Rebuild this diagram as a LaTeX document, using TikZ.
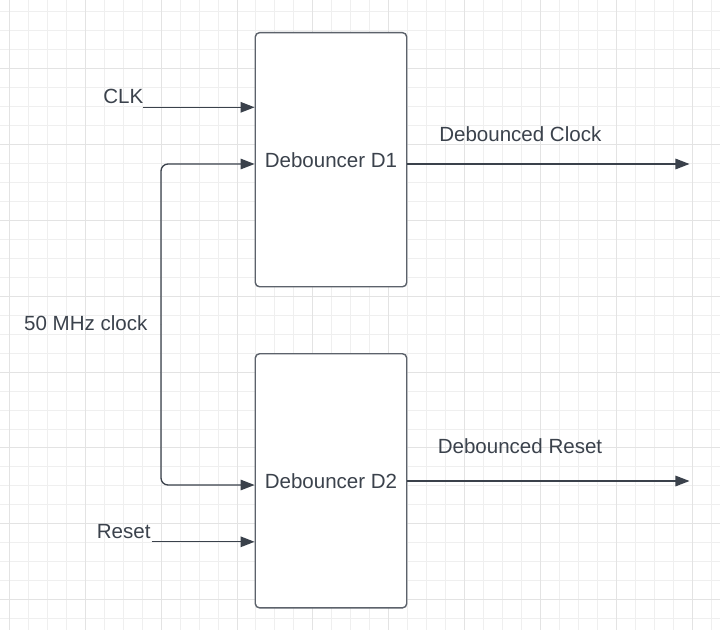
\documentclass[tikz,border=0pt]{standalone}
\usepackage{fontspec}
\setmainfont{Liberation Sans}
\usetikzlibrary{arrows.meta,positioning}
\definecolor{inkline}{HTML}{3A414B}
\definecolor{inkbox}{HTML}{5C626B}
\definecolor{inktext}{HTML}{3B424C}
\definecolor{gridminor}{HTML}{EFEFEF}
\definecolor{gridmajor}{HTML}{E3E3E3}
\tikzset{
  debox/.style={draw=inkbox, line width=1pt, rounded corners=3pt, fill=white,
    minimum width=3.785cm, minimum height=6.35cm, inner sep=0pt, text=inktext},
  lbl/.style={inner sep=0pt, text=inktext},
  wire/.style={draw=inkline, line width=0.95pt, -{Triangle[length=10pt,width=7.5pt]}},
  gridline/.style={line width=0.711pt}
}

\begin{document}
\begin{tikzpicture}[x=0.025cm, y=-0.025cm, font=\fontsize{14.6}{17}\selectfont]
			%%%%% START %%%%%
			\useasboundingbox (0, 0) rectangle (720, 630);
			\fill[white] (0, 0) rectangle (720, 630);
			
			% grid
			\foreach \i in {-1,...,38} {
				\pgfmathsetmacro{\gx}{round(10+\i*18.96)-0.5}
				\draw[gridline, gridminor] (\gx, 0) -- (\gx, 630);
			}
			\foreach \i in {-1,...,33} {
				\pgfmathsetmacro{\gy}{round(12.4+\i*18.96)-0.5}
				\draw[gridline, gridminor] (0, \gy) -- (720, \gy);
			}
			\foreach \i in {0,...,9} {
				\pgfmathsetmacro{\gx}{round(10+\i*75.84)-0.5}
				\draw[gridline, gridmajor] (\gx, 0) -- (\gx, 630);
			}
			\foreach \i in {-1,...,8} {
				\pgfmathsetmacro{\gy}{round(69.3+\i*75.84)-0.5}
				\draw[gridline, gridmajor] (0, \gy) -- (720, \gy);
			}
			
			% debouncer blocks
			\node[debox] (d1) at (331, 159.7) {Debouncer D1};
			\node[debox] (d2) at (331, 480.8) {Debouncer D2};
			
			% labels
			\node[lbl] (clk) at (123.3, 96) {CLK};
			\node[lbl] (rst) at (123.7, 531.7) {Reset};
			\node[lbl] (mhz) at (85.8, 323) {50 MHz clock};
			\node[lbl] (dclk) at (520.3, 134) {Debounced Clock};
			\node[lbl] (drst) at (520, 446) {Debounced Reset};
			
			\coordinate (clkin) at (143, 107.3);
			\coordinate (rstin) at (151.5, 541.8);
			\coordinate (loop) at (161, 324);
			\coordinate (d1out) at (689.5, 164);
			\coordinate (d2out) at (689.5, 481);
			
			% inputs
			\draw[wire] (clkin) -- (clkin -| d1.west);
			\draw[wire] (rstin) -- (rstin -| d2.west);
			\draw[wire, rounded corners=5pt] (loop) |- ([yshift=-4.3*0.025cm]d1.west);
			\draw[wire, rounded corners=5pt] (loop) |- ([yshift=-4.2*0.025cm]d2.west);
			
			% outputs
			\draw[wire] (d1out -| d1.east) -- (d1out);
			\draw[wire] (d2out -| d2.east) -- (d2out);
			%%%%% END %%%%%
\end{tikzpicture}
\end{document}
